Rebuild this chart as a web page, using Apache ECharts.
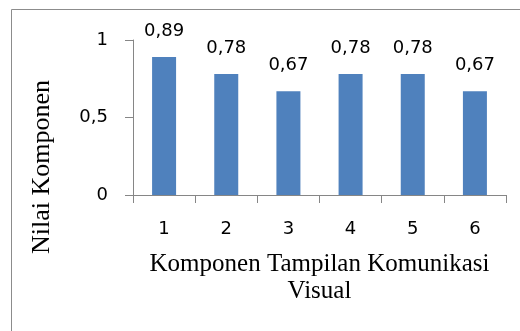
<!DOCTYPE html>
<html>
<head>
<meta charset="utf-8">
<script src="https://cdn.jsdelivr.net/npm/echarts@6/dist/echarts.min.js"></script>
<style>
html,body{margin:0;padding:0;background:#fff;}
#chart{width:520px;height:331px;}
</style>
</head>
<body>
<div id="chart"></div>
<script>
const categories = ['1', '2', '3', '4', '5', '6'];
const values = [0.89, 0.78, 0.67, 0.78, 0.78, 0.67];
const yTicks = [0, 0.5, 1];
const xTitle = 'Komponen Tampilan Komunikasi\nVisual';
const yTitle = 'Nilai Komponen';

const fmt = v => String(v).replace('.', ',');
const numFont = 'DejaVu Sans';
const serif = 'Liberation Serif';

const chart = echarts.init(document.getElementById('chart'), null, {renderer: 'canvas'});
chart.setOption({
  animation: false,
  backgroundColor: '#ffffff',
  grid: {left: 133, right: 14, top: 40, bottom: 136, containLabel: false},
  graphic: [
    {type: 'rect', shape: {x: 11.5, y: 9.5, width: 540, height: 360},
     style: {fill: 'none', stroke: '#8c8c8c', lineWidth: 1}, silent: true},
    {type: 'text', x: 42, y: 167, rotation: Math.PI / 2,
     style: {text: yTitle, font: '26px "' + serif + '"', fill: '#000',
             align: 'center', verticalAlign: 'middle'}}
  ],
  xAxis: {
    type: 'category',
    data: categories,
    boundaryGap: true,
    name: xTitle,
    nameLocation: 'middle',
    nameGap: 56,
    nameTextStyle: {fontFamily: serif, fontSize: 25, color: '#000', lineHeight: 27},
    axisLine: {lineStyle: {color: '#868686', width: 1}},
    axisTick: {show: true, inside: false, length: 8, alignWithLabel: false, lineStyle: {color: '#868686'}},
    axisLabel: {fontFamily: numFont, fontSize: 18, color: '#000', margin: 25}
  },
  yAxis: {
    type: 'value',
    min: 0, max: 1, interval: 0.5,
    axisLine: {show: true, lineStyle: {color: '#868686', width: 1}},
    axisTick: {show: true, inside: false, length: 8, lineStyle: {color: '#868686'}},
    splitLine: {show: false},
    axisLabel: {fontFamily: numFont, fontSize: 18, color: '#000', margin: 25,
                formatter: v => yTicks.includes(v) ? fmt(v) : ''}
  },
  series: [{
    type: 'bar',
    data: values,
    barWidth: 24,
    itemStyle: {color: '#4F81BD'},
    label: {show: true, position: 'top', distance: 17,
            fontFamily: numFont, fontSize: 18, color: '#000',
            formatter: p => fmt(p.value)}
  }]
});
</script>
</body>
</html>
